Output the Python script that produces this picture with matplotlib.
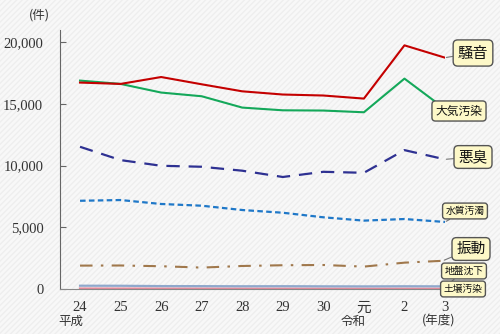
import numpy as np
import matplotlib.pyplot as plt
import matplotlib.patches as mpatches

plt.rcParams['font.family'] = ['Liberation Serif', 'Noto Sans CJK JP']

years = ['24', '25', '26', '27', '28', '29', '30', '元', '2', '3']

noise = [16740, 16630, 17190, 16600, 16030, 15770, 15690, 15440, 19760, 18760]
air = [16900, 16630, 15930, 15630, 14710, 14490, 14470, 14330, 17060, 14600]
odor = [11530, 10450, 9990, 9910, 9590, 9080, 9500, 9420, 11260, 10510]
water = [7150, 7210, 6890, 6750, 6400, 6180, 5810, 5540, 5670, 5430]
vibration = [1890, 1900, 1840, 1730, 1860, 1920, 1940, 1810, 2130, 2290]
soil = [260, 255, 230, 225, 215, 220, 210, 205, 215, 210]
subsidence = [30, 28, 25, 24, 22, 20, 20, 19, 18, 17]

jp = ['Noto Sans CJK JP']

fig = plt.figure(figsize=(5, 3.34), dpi=100, facecolor='#f8f8f8')
# faint diagonal texture behind everything
bg = mpatches.Rectangle((0, 0), 1, 1, transform=fig.transFigure, facecolor='none',
                        edgecolor='#eeeeee', hatch='//////', linewidth=0, zorder=-10)
fig.patches.append(bg)

ax = fig.add_axes([0.12, 0.135, 0.77, 0.775])
ax.set_facecolor('none')

x = np.arange(len(years))
ax.plot(x, subsidence, color='#e48a9a', lw=1.6, zorder=2)
ax.plot(x, soil, color='#8fa8cc', lw=1.6, zorder=2)
ax.plot(x, vibration, color='#a0784c', lw=1.5, dashes=(6, 4, 1.2, 4))
ax.plot(x, water, color='#1f78c8', lw=1.6, dashes=(2.5, 1.5))
ax.plot(x, odor, color='#2e3192', lw=1.6, dashes=(6, 4))
ax.plot(x, air, color='#14a85a', lw=1.5)
ax.plot(x, noise, color='#c40000', lw=1.5)

ax.set_xlim(-0.494, 9.0)
ax.set_ylim(0, 21000)
ax.set_yticks([0, 5000, 10000, 15000, 20000])
ax.set_yticklabels(['0', '5,000', '10,000', '15,000', '20,000'])
ax.set_xticks(x)
ax.set_xticklabels(years)
for lab in ax.get_xticklabels():
    lab.set_family(['Liberation Serif', 'Noto Sans CJK JP'])
ax.tick_params(axis='y', direction='in', length=4, color='#666666', labelsize=10.5,
               labelcolor='#333333', pad=12)
ax.tick_params(axis='x', length=0, labelsize=10.5, labelcolor='#333333', pad=9)
for s in ['top', 'right']:
    ax.spines[s].set_visible(False)
ax.spines['left'].set_color('#666666')
ax.spines['bottom'].set_color('#888888')

fig.text(39 / 500, 1 - 15 / 334, '(件)', family=jp, fontsize=9, color='#333333',
         ha='center', va='center')
fig.text(71 / 500, 1 - 321 / 334, '平成', family=jp, fontsize=9, color='#333333',
         ha='center', va='center')
fig.text(353 / 500, 1 - 321 / 334, '令和', family=jp, fontsize=9, color='#333333',
         ha='center', va='center')
fig.text(439 / 500, 1 - 321 / 334, '(年度)', family=jp, fontsize=9, color='#333333',
         ha='center', va='center')

box = dict(boxstyle='round,pad=0.3,rounding_size=0.3', fc='#fdf8c8', ec='#555555', lw=1.0)
leader = dict(arrowstyle='-', color='#777777', lw=0.8, shrinkA=0, shrinkB=1)


def tag(text, xy, px, py, size):
    ax.annotate(text, xy=xy, xycoords='data', xytext=(px / 500, 1 - py / 334),
                textcoords='figure fraction', ha='center', va='center',
                family=jp, fontsize=size, color='#111111', bbox=box,
                arrowprops=leader, annotation_clip=False)


tag('騒音', (9, noise[-1]), 473, 53, 11)
tag('大気汚染', (9, air[-1]), 459, 111, 8.5)
tag('悪臭', (9, odor[-1]), 473, 157, 10.5)
tag('水質汚濁', (9, water[-1]), 465, 211, 7)
tag('振動', (8.95, vibration[-1]), 471, 249, 10.5)
tag('地盤沈下', (8.95, subsidence[-1]), 464, 271, 7)
tag('土壌汚染', (8.95, soil[-1]), 463, 289, 7)

fig.savefig('out.png', dpi=100, facecolor=fig.get_facecolor())
